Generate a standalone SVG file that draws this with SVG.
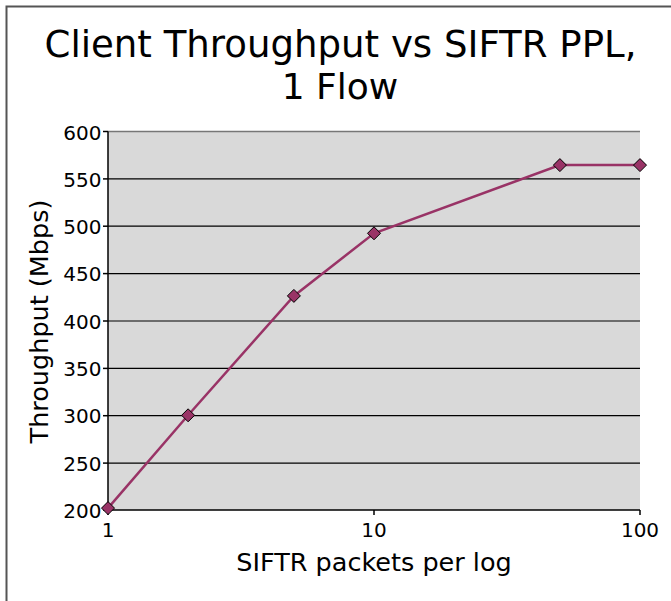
<svg xmlns="http://www.w3.org/2000/svg" width="671" height="601" viewBox="0 0 671 601">
<defs>
<style>
text{font-family:"DejaVu Sans","Liberation Sans",sans-serif;fill:#000}
.tick{font-size:20px}
.grid{stroke:#000;stroke-width:1.2}
.ax{stroke:#000;stroke-width:1.5;fill:none}
.mk{fill:#993366;stroke:#000;stroke-width:1}
</style>
<path id="dia" d="M0,-6.5 L6.5,0 L0,6.5 L-6.5,0 Z"/>
</defs>
<rect x="0" y="0" width="671" height="601" fill="#fff"/>
<g id="frame"><path d="M6.5,601 V6.5 H671" fill="none" stroke="#555" stroke-width="2"/></g>
<g id="title">
<text x="340.5" y="56.5" font-size="37.5" text-anchor="middle" textLength="592" lengthAdjust="spacingAndGlyphs">Client Throughput vs SIFTR PPL,</text>
<text x="340" y="99.3" font-size="36" text-anchor="middle">1 Flow</text>
</g>
<g id="plot">
<rect x="108" y="131.5" width="532" height="378.5" fill="#d9d9d9"/>
<line x1="108" y1="131.5" x2="640" y2="131.5" stroke="#777" stroke-width="1.5"/>
<g class="grid">
<line x1="108" y1="178.9" x2="640" y2="178.9"/>
<line x1="108" y1="226.2" x2="640" y2="226.2"/>
<line x1="108" y1="273.6" x2="640" y2="273.6"/>
<line x1="108" y1="321" x2="640" y2="321"/>
<line x1="108" y1="368.4" x2="640" y2="368.4"/>
<line x1="108" y1="415.7" x2="640" y2="415.7"/>
<line x1="108" y1="463.1" x2="640" y2="463.1"/>
</g>
<path class="ax" d="M108,131.5 V510 H640"/>
<g stroke="#000" stroke-width="1.5">
<line x1="103" y1="131.5" x2="108" y2="131.5"/>
<line x1="103" y1="178.9" x2="108" y2="178.9"/>
<line x1="103" y1="226.2" x2="108" y2="226.2"/>
<line x1="103" y1="273.6" x2="108" y2="273.6"/>
<line x1="103" y1="321" x2="108" y2="321"/>
<line x1="103" y1="368.4" x2="108" y2="368.4"/>
<line x1="103" y1="415.7" x2="108" y2="415.7"/>
<line x1="103" y1="463.1" x2="108" y2="463.1"/>
<line x1="103" y1="510" x2="108" y2="510"/>
<line x1="108" y1="510" x2="108" y2="515"/>
<line x1="374" y1="510" x2="374" y2="515"/>
<line x1="640" y1="510" x2="640" y2="515"/>
</g>
</g>
<g id="yticks" class="tick" text-anchor="end">
<text x="101.5" y="139.5">600</text>
<text x="101.5" y="186.5">550</text>
<text x="101.5" y="234">500</text>
<text x="101.5" y="281">450</text>
<text x="101.5" y="328.5">400</text>
<text x="101.5" y="376">350</text>
<text x="101.5" y="423">300</text>
<text x="101.5" y="470.5">250</text>
<text x="101.5" y="517.5">200</text>
</g>
<g id="xticks" class="tick" text-anchor="middle">
<text x="108" y="536.5">1</text>
<text x="374" y="536.5">10</text>
<text x="640" y="536.5">100</text>
</g>
<text id="xtitle" x="374" y="571" font-size="25.5" text-anchor="middle">SIFTR packets per log</text>
<text id="ytitle" transform="translate(48,321.5) rotate(-90)" font-size="25.5" text-anchor="middle">Throughput (Mbps)</text>
<g id="series">
<polyline points="108,508.1 188.1,415.3 293.9,295.9 374,233.3 559.9,165.1 640,165.1" fill="none" stroke="#993366" stroke-width="2.5"/>
<use href="#dia" class="mk" x="108" y="508.1"/>
<use href="#dia" class="mk" x="188.1" y="415.3"/>
<use href="#dia" class="mk" x="293.9" y="295.9"/>
<use href="#dia" class="mk" x="374" y="233.3"/>
<use href="#dia" class="mk" x="559.9" y="165.1"/>
<use href="#dia" class="mk" x="640" y="165.1"/>
</g>
</svg>
